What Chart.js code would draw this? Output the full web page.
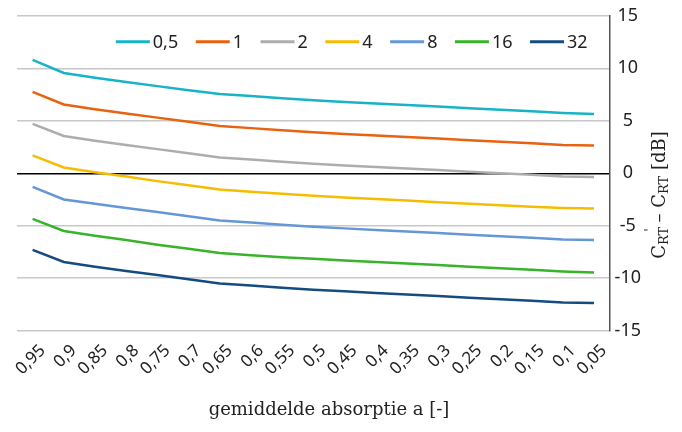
<!DOCTYPE html>
<html>
<head>
<meta charset="utf-8">
<script src="https://cdn.jsdelivr.net/npm/chart.js@4.4.0/dist/chart.umd.min.js"></script>
<style>
  html, body { margin: 0; padding: 0; background: #fff; }
  #wrap { width: 682px; height: 432px; }
</style>
</head>
<body>
<div id="wrap"><canvas id="chart"></canvas></div>
<script>
// absorption values on the x axis (descending)
const absorptie = ['0,95', '0,9', '0,85', '0,8', '0,75', '0,7', '0,65', '0,6', '0,55', '0,5',
                   '0,45', '0,4', '0,35', '0,3', '0,25', '0,2', '0,15', '0,1', '0,05'];
const seriesNames = ['0,5', '1', '2', '4', '8', '16', '32'];

// C_RT' - C_RT [dB], one array per series
const s0_5 = [10.8, 9.55, 9.1, 8.7, 8.3, 7.9, 7.55, 7.35, 7.15, 6.95, 6.8, 6.65, 6.5, 6.35, 6.2, 6.05, 5.9, 5.75, 5.65];
const s1   = [7.75, 6.55, 6.1, 5.7, 5.3, 4.9, 4.5, 4.3, 4.1, 3.9, 3.75, 3.6, 3.45, 3.3, 3.15, 3.0, 2.85, 2.7, 2.65];
const s2   = [4.7, 3.55, 3.1, 2.7, 2.3, 1.9, 1.5, 1.3, 1.1, 0.9, 0.75, 0.6, 0.45, 0.3, 0.15, 0.0, -0.15, -0.3, -0.35];
const s4   = [1.7, 0.55, 0.1, -0.3, -0.75, -1.15, -1.55, -1.75, -1.95, -2.15, -2.3, -2.45, -2.6, -2.75, -2.9, -3.05, -3.2, -3.3, -3.35];
const s8   = [-1.3, -2.5, -2.9, -3.3, -3.7, -4.1, -4.5, -4.7, -4.9, -5.1, -5.25, -5.4, -5.55, -5.7, -5.85, -6.0, -6.15, -6.3, -6.35];
const s16  = [-4.35, -5.5, -5.95, -6.35, -6.8, -7.2, -7.6, -7.8, -8.0, -8.15, -8.3, -8.45, -8.6, -8.75, -8.9, -9.05, -9.2, -9.35, -9.45];
const s32  = [-7.3, -8.45, -8.9, -9.3, -9.7, -10.1, -10.5, -10.7, -10.9, -11.1, -11.25, -11.4, -11.55, -11.7, -11.85, -12.0, -12.15, -12.3, -12.35];

const allSeries = [s0_5, s1, s2, s4, s8, s16, s32];
const colors = ['#17b3c7', '#e8620f', '#adadad', '#f6bd00', '#6597d4', '#38b42a', '#154b80'];

// legend drawn as one row inside the plot, top right
const rowLegend = {
    id: 'rowLegend',
    afterDraw(chart) {
        const ctx = chart.ctx;
        const area = chart.chartArea;
        const lineW = 34, gap = 3, spacing = 17.5, y = area.top + 26;
        ctx.save();
        ctx.font = '18px "Noto Sans"';
        ctx.textBaseline = 'middle';
        const items = chart.data.datasets.map(ds => ({ ds, w: ctx.measureText(ds.label).width }));
        let total = items.reduce((s, it) => s + lineW + gap + it.w, 0) + spacing * (items.length - 1);
        let x = area.right - 22 - total;
        items.forEach(it => {
            ctx.strokeStyle = it.ds.borderColor;
            ctx.lineWidth = 3;
            ctx.beginPath();
            ctx.moveTo(x, y);
            ctx.lineTo(x + lineW, y);
            ctx.stroke();
            ctx.fillStyle = '#222';
            ctx.fillText(it.ds.label, x + lineW + gap, y + 1);
            x += lineW + gap + it.w + spacing;
        });
        ctx.restore();
    }
};

// axis titles; the y title needs subscripts: C_RT' - C_RT [dB]
const axisTitles = {
    id: 'axisTitles',
    afterDraw(chart) {
        const ctx = chart.ctx;
        const big = '18px "DejaVu Serif"';
        const small = '13px "DejaVu Serif"';
        ctx.save();
        ctx.fillStyle = '#222';
        ctx.textBaseline = 'middle';

        ctx.font = big;
        ctx.textAlign = 'center';
        ctx.fillText('gemiddelde absorptie a [-]', 329, 410);

        const parts = [
            { t: 'C', f: big, dy: 0 },
            { t: 'RT', f: small, dy: 5 },
            { t: '\'', f: small, dy: -9, back: 5 },
            { t: ' \u2013 C', f: big, dy: 0 },
            { t: 'RT', f: small, dy: 5 },
            { t: ' [dB]', f: big, dy: 0 }
        ];
        ctx.textAlign = 'left';
        let total = 0;
        parts.forEach(p => {
            ctx.font = p.f;
            p.w = ctx.measureText(p.t).width - (p.back || 0);
            total += p.w;
        });
        ctx.translate(660, 195);
        ctx.rotate(-Math.PI / 2);
        let x = -total / 2;
        parts.forEach(p => {
            ctx.font = p.f;
            ctx.fillText(p.t, x - (p.back || 0), p.dy);
            x += p.w;
        });
        ctx.restore();
    }
};

new Chart(document.getElementById('chart'), {
    type: 'line',
    data: {
        labels: absorptie,
        datasets: allSeries.map((d, i) => ({
            label: seriesNames[i],
            data: d,
            borderColor: colors[i],
            backgroundColor: colors[i],
            borderWidth: 2.5,
            pointRadius: 0,
            tension: 0
        }))
    },
    options: {
        responsive: true,
        maintainAspectRatio: false,
        animation: false,
        layout: { padding: { left: 17, top: 1, right: 36, bottom: 51 } },
        plugins: {
            legend: { display: false },
            tooltip: { enabled: false }
        },
        scales: {
            x: {
                offset: true,
                grid: { display: false },
                border: { display: false },
                ticks: {
                    color: '#222',
                    font: { family: '"Noto Sans"', size: 17 },
                    minRotation: 45,
                    maxRotation: 45,
                    autoSkip: false,
                    labelOffset: 10,
                    padding: 2
                }
            },
            y: {
                position: 'right',
                min: -15,
                max: 15,
                ticks: {
                    stepSize: 5,
                    color: '#222',
                    crossAlign: 'center',
                    padding: 5,
                    font: { family: '"Noto Sans"', size: 18 }
                },
                grid: {
                    drawTicks: false,
                    lineWidth: 1.5,
                    color: c => (c.tick && c.tick.value === 0) ? '#000' : '#c8c8c8'
                },
                border: { display: true, color: '#555', width: 1.5 }
            }
        }
    },
    plugins: [rowLegend, axisTitles]
});
</script>
</body>
</html>
